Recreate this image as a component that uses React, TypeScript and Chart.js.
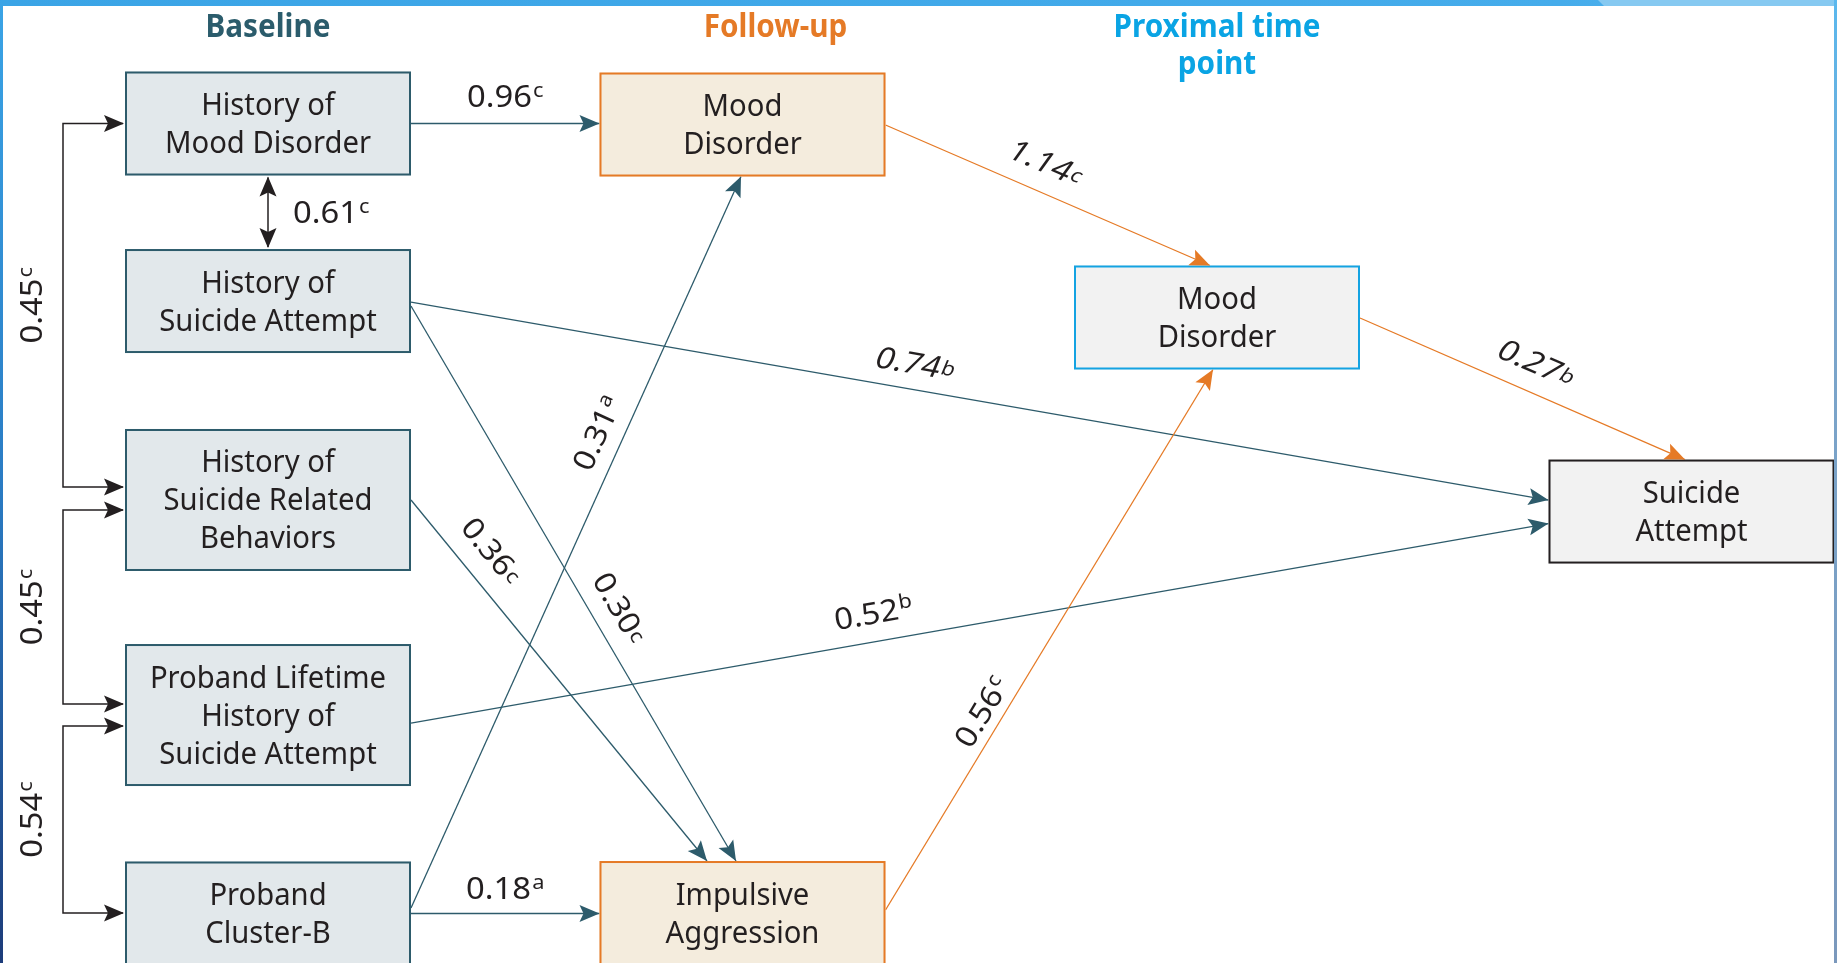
import React, { useEffect, useRef } from 'react';
import { Chart, registerables } from 'chart.js';

Chart.register(...registerables);

// ---------------- data ----------------
const columnTitles = ['Baseline', 'Follow-up', 'Proximal time\npoint'];

const nodeLabels = [
  'History of\nMood Disorder',
  'History of\nSuicide Attempt',
  'History of\nSuicide Related\nBehaviors',
  'Proband Lifetime\nHistory of\nSuicide Attempt',
  'Proband\nCluster-B',
  'Mood\nDisorder',
  'Impulsive\nAggression',
  'Mood\nDisorder',
  'Suicide\nAttempt',
];
// time point (column) of each node: 0 baseline, 1 follow-up, 2 proximal, 3 outcome
const nodeTimepoint = [0, 0, 0, 0, 0, 1, 1, 2, 3];
// vertical level of each node (0 = top, 10 = bottom)
const nodeLevel = [1.2825, 3.126, 5.192, 7.425, 9.486, 1.293, 9.481, 3.297, 5.312];

// directed paths
const pathFrom = [0, 1, 1, 2, 3, 4, 4, 5, 6, 7];
const pathTo = [5, 8, 6, 6, 8, 5, 6, 7, 7, 8];
const pathCoef = [0.96, 0.74, 0.3, 0.36, 0.52, 0.31, 0.18, 1.14, 0.56, 0.27];
const pathSig = ['c', 'b', 'c', 'c', 'b', 'a', 'a', 'c', 'c', 'b'];

// correlations (double-headed)
const corrA = [0, 0, 2, 3];
const corrB = [1, 2, 3, 4];
const corrCoef = [0.61, 0.45, 0.45, 0.54];
const corrSig = ['c', 'c', 'c', 'c'];

// ---------------- layout & style (not data) ----------------
const W = 1837;
const H = 963;
const COL_SPACING_PX = 474.5;
const COL0_PX = 268;
const X_MIN = -COL0_PX / COL_SPACING_PX;
const X_MAX = X_MIN + W / COL_SPACING_PX;

const BOX_W = 286;
const BOX_PAD = 28;
const LINE_H = 38;

const TEAL = '#2d5b6b';
const ORANGE = '#e57a26';
const BLUE = '#14a3e2';
const INK = '#231f20';

const boxFill = ['#e2e8eb', '#f4ecdd', '#f2f2f2', '#f2f2f2'];
const boxStroke = [TEAL, ORANGE, BLUE, INK];
const titleColor = ['#2b5c6c', ORANGE, '#0aa4e4'];
const titleDx = [0, 33, 0];

const FONT = '"Noto Sans", "Open Sans", sans-serif';

// path port layout
const pathFromSide = ['right', 'right', 'right', 'right', 'right', 'right', 'right', 'right', 'right', 'right'];
const pathToSide = ['left', 'left', 'top', 'top', 'left', 'bottom', 'left', 'top', 'bottom', 'top'];
const pathFromOff = [0, 1, 5, 0, 8, -5.5, 0, 0.5, -3, 0.5];
const pathToOff = [-1, -11.5, -6.5, -35.5, 12, -1.5, 0.5, -7, -4, -6.5];
// label placement along path
const labT = [0.5, 0.44, 0.569, 0.194, 0.411, 0.635, 0.5, 0.46, 0.347, 0.509];
const labPerp = [27.5, 26.4, 28.1, 30.4, 28.7, 26.1, 25, 29.6, 20.6, 29.6];
const labRotate = [false, true, true, true, true, true, false, true, true, true];
const labSlant = [false, true, false, false, false, false, false, true, false, true];
const labLowSup = [false, true, true, true, false, false, false, true, false, true];

// correlation layout
const corrOffA = [0, 0, 10, 11];
const corrOffB = [0, -13, -11, -0.5];
const BRACKET_GAP = 62;
const CORR_LABEL_X = 31;

type Box = { cx: number; cy: number; w: number; h: number; l: number; r: number; t: number; b: number; lines: string[]; tp: number };

function port(b: Box, side: string, off: number): [number, number] {
  if (side === 'right') return [b.r, b.cy + off];
  if (side === 'left') return [b.l, b.cy + off];
  if (side === 'top') return [b.cx + off, b.t];
  return [b.cx + off, b.b];
}

function arrowHead(ctx: CanvasRenderingContext2D, x: number, y: number, ang: number, color: string) {
  const len = 20;
  const hw = 8.5;
  const notch = 4;
  ctx.save();
  ctx.translate(x, y);
  ctx.rotate(ang);
  ctx.beginPath();
  ctx.moveTo(0, 0);
  ctx.lineTo(-len, -hw);
  ctx.lineTo(-len + notch, 0);
  ctx.lineTo(-len, hw);
  ctx.closePath();
  ctx.fillStyle = color;
  ctx.fill();
  ctx.restore();
}

const LABEL_SIZE = 30;
const SUP_SIZE = 20;

function drawCoef(
  ctx: CanvasRenderingContext2D,
  x: number,
  y: number,
  angle: number,
  num: string,
  sup: string,
  slant: boolean,
  lowSup: boolean,
  sx: number
) {
  ctx.save();
  ctx.translate(x, y);
  ctx.rotate(angle);
  if (slant) ctx.transform(1, 0, -0.22, 1, 0, 0);
  ctx.scale(sx, 1);
  ctx.textAlign = 'left';
  ctx.textBaseline = 'alphabetic';
  ctx.fillStyle = INK;
  ctx.font = `${LABEL_SIZE}px ${FONT}`;
  const wNum = ctx.measureText(num).width;
  ctx.font = `${SUP_SIZE}px ${FONT}`;
  const wSup = ctx.measureText(sup).width;
  const total = wNum + 1 + wSup;
  const x0 = -total / 2;
  const base = (LABEL_SIZE * 0.714) / 2;
  ctx.font = `${LABEL_SIZE}px ${FONT}`;
  ctx.fillText(num, x0, base);
  ctx.font = `${SUP_SIZE}px ${FONT}`;
  ctx.fillText(sup, x0 + wNum + 1, base - (lowSup ? 4 : 10));
  ctx.restore();
}

const diagramPlugin = {
  id: 'pathDiagram',
  afterDraw(chart: any) {
    const ctx: CanvasRenderingContext2D = chart.ctx;
    const meta = chart.getDatasetMeta(0);
    ctx.save();

    // calibrations for condensed look
    ctx.font = `30px ${FONT}`;
    const sxBox = 206 / ctx.measureText('Mood Disorder').width;
    ctx.font = `${LABEL_SIZE}px ${FONT}`;
    const sxLab = 65 / ctx.measureText('0.96').width;
    ctx.font = `bold 30px ${FONT}`;
    const sxTitle = 125 / ctx.measureText('Baseline').width;

    const boxes: Box[] = nodeLabels.map((lab, i) => {
      const el = meta.data[i];
      const lines = lab.split('\n');
      const h = BOX_PAD + LINE_H * lines.length;
      const cx = el.x;
      const cy = el.y;
      return { cx, cy, w: BOX_W, h, l: cx - BOX_W / 2, r: cx + BOX_W / 2, t: cy - h / 2, b: cy + h / 2, lines, tp: nodeTimepoint[i] };
    });

    // ---- column titles ----
    const xs = chart.scales.x;
    columnTitles.forEach((t, i) => {
      const cx = xs.getPixelForValue(i) + titleDx[i];
      t.split('\n').forEach((line, k) => {
        ctx.save();
        ctx.translate(cx, 37 + k * 37);
        ctx.scale(sxTitle, 1.05);
        ctx.font = `bold 30px ${FONT}`;
        ctx.textAlign = 'center';
        ctx.textBaseline = 'alphabetic';
        ctx.fillStyle = titleColor[i];
        ctx.fillText(line, 0, 0);
        ctx.restore();
      });
    });

    // ---- paths (lines) ----
    const heads: Array<[number, number, number, string]> = [];
    const labels: Array<() => void> = [];
    pathFrom.forEach((f, i) => {
      const a = boxes[f];
      const b = boxes[pathTo[i]];
      const [x1, y1] = port(a, pathFromSide[i], pathFromOff[i]);
      const [x2, y2] = port(b, pathToSide[i], pathToOff[i]);
      const color = a.tp === 0 ? TEAL : ORANGE;
      ctx.beginPath();
      ctx.moveTo(x1, y1);
      ctx.lineTo(x2, y2);
      ctx.strokeStyle = color;
      ctx.lineWidth = 1.3;
      ctx.stroke();
      const ang = Math.atan2(y2 - y1, x2 - x1);
      heads.push([x2, y2, ang, color]);
      const len = Math.hypot(x2 - x1, y2 - y1);
      const ux = (x2 - x1) / len;
      const uy = (y2 - y1) / len;
      const nx = uy;
      const ny = -ux;
      const lx = x1 + ux * len * labT[i] + nx * labPerp[i];
      const ly = y1 + uy * len * labT[i] + ny * labPerp[i];
      labels.push(() =>
        drawCoef(ctx, lx, ly, labRotate[i] ? ang : 0, pathCoef[i].toFixed(2), pathSig[i], labSlant[i], labLowSup[i], sxLab)
      );
    });

    // ---- correlations ----
    corrA.forEach((ai, i) => {
      const a = boxes[ai];
      const b = boxes[corrB[i]];
      ctx.strokeStyle = INK;
      ctx.lineWidth = 1.5;
      if (a.cx === b.cx && i === 0) {
        const x = a.cx;
        ctx.beginPath();
        ctx.moveTo(x, a.b + 2);
        ctx.lineTo(x, b.t - 2);
        ctx.stroke();
        heads.push([x, a.b + 1, -Math.PI / 2, INK]);
        heads.push([x, b.t - 1, Math.PI / 2, INK]);
        const ly = (a.b + b.t) / 2;
        labels.push(() => {
          ctx.save();
          ctx.translate(x + 25, ly);
          ctx.scale(sxLab, 1);
          ctx.textAlign = 'left';
          ctx.textBaseline = 'alphabetic';
          ctx.fillStyle = INK;
          ctx.font = `${LABEL_SIZE}px ${FONT}`;
          const num = corrCoef[i].toFixed(2);
          const w = ctx.measureText(num).width;
          const base = (LABEL_SIZE * 0.714) / 2;
          ctx.fillText(num, 0, base);
          ctx.font = `${SUP_SIZE}px ${FONT}`;
          ctx.fillText(corrSig[i], w + 1, base - 10);
          ctx.restore();
        });
      } else {
        const bx = a.l - BRACKET_GAP;
        const ya = a.cy + corrOffA[i];
        const yb = b.cy + corrOffB[i];
        ctx.beginPath();
        ctx.moveTo(a.l - 2, ya);
        ctx.lineTo(bx, ya);
        ctx.lineTo(bx, yb);
        ctx.lineTo(b.l - 2, yb);
        ctx.stroke();
        heads.push([a.l - 1, ya, 0, INK]);
        heads.push([b.l - 1, yb, 0, INK]);
        labels.push(() =>
          drawCoef(ctx, CORR_LABEL_X, (ya + yb) / 2, -Math.PI / 2, corrCoef[i].toFixed(2), corrSig[i], false, false, sxLab)
        );
      }
    });

    // ---- boxes ----
    boxes.forEach((b) => {
      ctx.fillStyle = boxFill[b.tp];
      ctx.fillRect(b.l, b.t, b.w, b.h);
      ctx.strokeStyle = boxStroke[b.tp];
      ctx.lineWidth = 2;
      ctx.strokeRect(b.l + 1, b.t + 1, b.w - 2, b.h - 2);
      const n = b.lines.length;
      b.lines.forEach((line, k) => {
        ctx.save();
        ctx.translate(b.cx, b.cy - ((n - 1) * LINE_H) / 2 + 10.5 + k * LINE_H);
        ctx.scale(sxBox, 1.03);
        ctx.font = `30px ${FONT}`;
        ctx.textAlign = 'center';
        ctx.textBaseline = 'alphabetic';
        ctx.fillStyle = INK;
        ctx.fillText(line, 0, 0);
        ctx.restore();
      });
    });

    heads.forEach(([x, y, a, c]) => arrowHead(ctx, x, y, a, c));
    labels.forEach((fn) => fn());

    // ---- frame ----
    const topGrad = ctx.createLinearGradient(0, 0, W, 0);
    topGrad.addColorStop(0, '#3aa4e6');
    topGrad.addColorStop(0.85, '#45aceb');
    topGrad.addColorStop(1, '#5ab8ee');
    ctx.fillStyle = topGrad;
    ctx.fillRect(0, 0, W, 6);
    ctx.fillStyle = '#86c9f1';
    ctx.beginPath();
    ctx.moveTo(1598, 0);
    ctx.lineTo(W, 0);
    ctx.lineTo(W, 6);
    ctx.lineTo(1604, 6);
    ctx.closePath();
    ctx.fill();
    const leftGrad = ctx.createLinearGradient(0, 0, 0, H);
    leftGrad.addColorStop(0, '#3aa4e6');
    leftGrad.addColorStop(0.5, '#2a7cc4');
    leftGrad.addColorStop(1, '#1d3c7a');
    ctx.fillStyle = leftGrad;
    ctx.fillRect(0, 0, 3, H);
    const rightGrad = ctx.createLinearGradient(0, 0, 0, H);
    rightGrad.addColorStop(0, '#5ab8ee');
    rightGrad.addColorStop(0.3, '#7aa6cc');
    rightGrad.addColorStop(1, '#7a98bc');
    ctx.fillStyle = rightGrad;
    ctx.fillRect(W - 3, 0, 3, H);

    ctx.restore();
  },
};

export default function App() {
  const ref = useRef<HTMLCanvasElement>(null);
  useEffect(() => {
    const canvas = ref.current;
    if (!canvas) return;
    const chart = new Chart(canvas, {
      type: 'scatter',
      data: {
        datasets: [
          {
            data: nodeLabels.map((_, i) => ({ x: nodeTimepoint[i], y: nodeLevel[i] })),
            pointRadius: 0,
            pointHoverRadius: 0,
          },
        ],
      },
      options: {
        animation: false,
        responsive: false,
        maintainAspectRatio: false,
        events: [],
        layout: { padding: 0 },
        plugins: {
          legend: { display: false },
          tooltip: { enabled: false },
          title: { display: false },
        },
        scales: {
          x: { type: 'linear', min: X_MIN, max: X_MAX, display: false },
          y: { type: 'linear', min: 0, max: 10, reverse: true, display: false },
        },
      },
      plugins: [diagramPlugin],
    } as any);
    return () => chart.destroy();
  }, []);
  return (
    <div style={{ position: 'fixed', left: 0, top: 0, width: W, height: H, background: '#ffffff' }}>
      <canvas ref={ref} width={W} height={H} style={{ display: 'block', width: W, height: H }} />
    </div>
  );
}
